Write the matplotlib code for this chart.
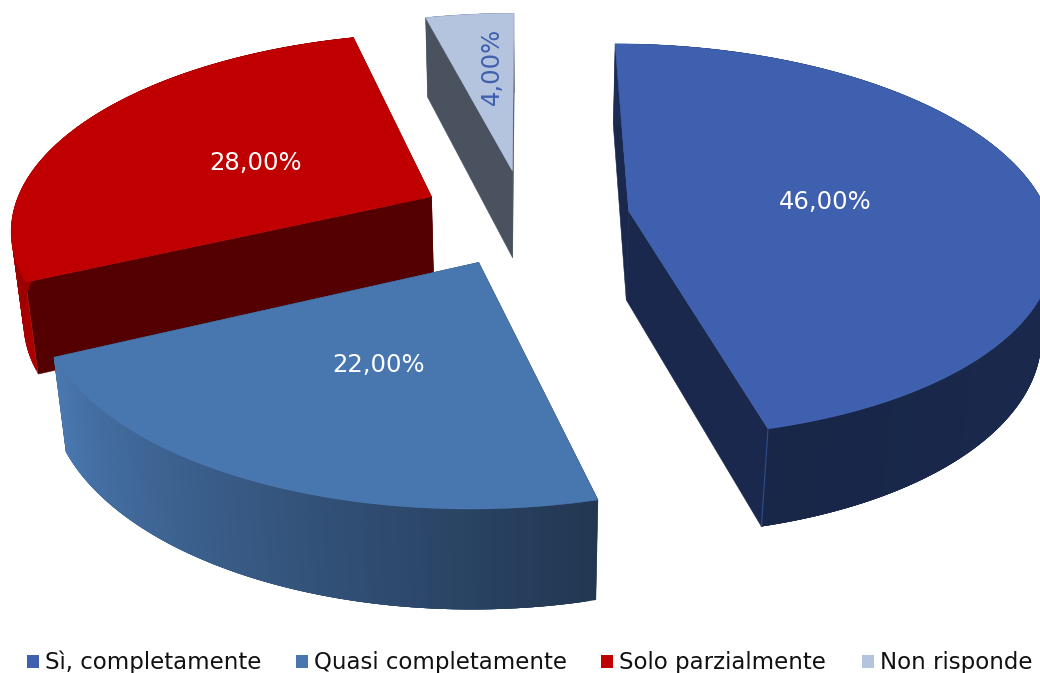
import numpy as np
import matplotlib
matplotlib.use("Agg")
import matplotlib.pyplot as plt
from matplotlib.colors import to_rgb

categories = ["Sì, completamente", "Quasi completamente", "Solo parzialmente", "Non risponde"]
values = [46.0, 22.0, 28.0, 4.0]
top_colors = ["#3F60AE", "#4876AF", "#C00000", "#B4C3DE"]
radial_colors = ["#19284C", "#223752", "#550000", "#4A5260"]
wall_start_colors = ["#1C2C56", "#223752", "#AE0000", "#4A5260"]
wall_end_colors = ["#182748", "#4A78B0", "#550000", "#4A5260"]
label_colors = ["white", "white", "white", "#4060AE"]
label_radius = [0.49, 0.5, 0.5, 0.63]
label_rotation = [0, 0, 0, 90]
label_shift = [(-4, 3), (3, 1), (2, 5), (8, -1)]
draw_order = [3, 2, 0, 1]
legend_text_x = [45, 314, 619, 880]

X0, Y0, A, B, K = 525.0, 217.0, 420.0, 194.0, 0.151
DROP, Q = 91.3, 0.024
EXPLODE = 0.25


def project(x, y, low=False):
    x, y = np.asarray(x, float), np.asarray(y, float)
    den = 1 + K * y + (Q if low else 0)
    sy = Y0 - (B * y - (DROP if low else 0)) / den
    return X0 + A * x / den, sy


fig = plt.figure(figsize=(10.4, 6.73), dpi=100)
ax = fig.add_axes([0, 0, 1, 1])
ax.set_xlim(0, 1040)
ax.set_ylim(673, 0)
ax.axis("off")
plt.rcParams["font.family"] = "DejaVu Sans"

total = sum(values)
edges = np.cumsum([0] + values) / total * 2 * np.pi


def poly(pts, color, z, lw=0.0):
    ax.fill([p[0] for p in pts], [p[1] for p in pts], facecolor=color, edgecolor=color if lw else "none", lw=lw, zorder=z)


for rank, i in enumerate(draw_order):
    t0, t1 = edges[i], edges[i + 1]
    mid = (t0 + t1) / 2
    cx, cy = EXPLODE * np.sin(mid), EXPLODE * np.cos(mid)
    th = np.linspace(t0, t1, 120)
    px, py = cx + np.sin(th), cy + np.cos(th)
    z = rank * 10

    # radial walls
    for ex, ey in ((px[0], py[0]), (px[-1], py[-1])):
        poly([project(cx, cy), project(ex, ey), project(ex, ey, True), project(cx, cy, True)], radial_colors[i], z, 0.4)

    # outer wall, shaded along the arc; each strip overlaps the next to hide seams
    c0, c1 = np.array(to_rgb(wall_start_colors[i])), np.array(to_rgb(wall_end_colors[i]))
    n = len(th)
    for j in range(n - 1):
        f = j / (n - 2)
        col = tuple(c0 + (c1 - c0) * f)
        k = min(j + 4, n - 1)
        poly([project(px[a_], py[a_]) for a_ in range(j, k + 1)] +
             [project(px[a_], py[a_], True) for a_ in range(k, j - 1, -1)], col, z + 1)

    # top face
    sx, sy = project(np.r_[cx, px], np.r_[cy, py])
    ax.fill(sx, sy, facecolor=top_colors[i], edgecolor=top_colors[i], lw=0.4, zorder=z + 2)

    # data label
    lx, ly = project(cx + label_radius[i] * np.sin(mid), cy + label_radius[i] * np.cos(mid))
    ax.text(lx + label_shift[i][0], ly + label_shift[i][1], f"{values[i]:.2f}%".replace(".", ","),
            color=label_colors[i], fontsize=17.5, rotation=label_rotation[i],
            ha="center", va="center", zorder=100)

    if i == 0:
        ax.plot(*zip(project(px[-1], py[-1]), project(px[-1], py[-1], True)), color="#2F4C90", lw=0.8, zorder=z + 2)

for name, col, x in zip(categories, top_colors, legend_text_x):
    ax.add_patch(plt.Rectangle((x - 18, 655), 12, 13, facecolor=col, edgecolor="none", zorder=100))
    ax.text(x, 662, name, fontsize=16.45, color="#111111", ha="left", va="center", zorder=100)

fig.savefig("out.png", dpi=100, facecolor="white")
